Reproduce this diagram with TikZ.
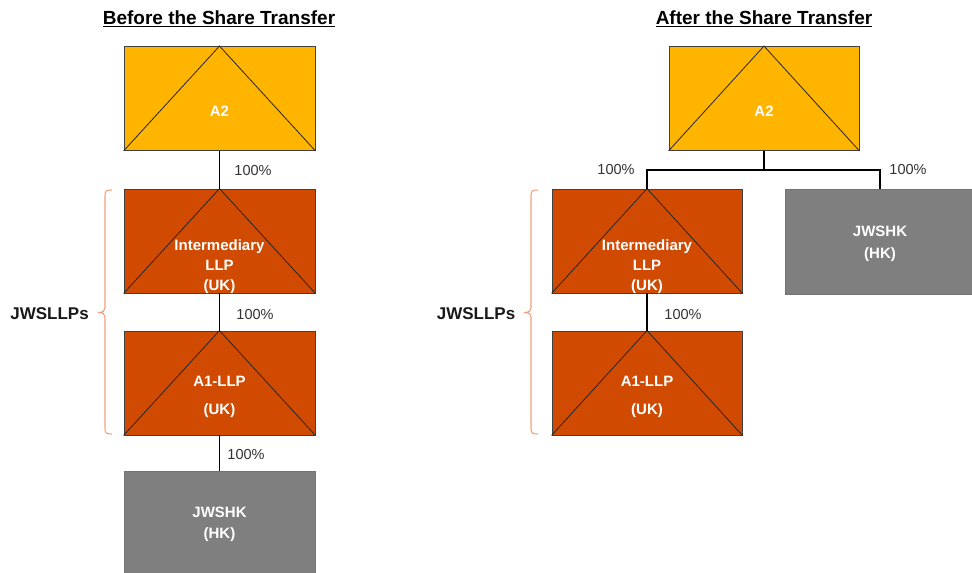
\documentclass[tikz,border=0pt]{standalone}
\usepackage{fontspec}
\setmainfont{Liberation Sans}
\definecolor{cyel}{HTML}{FFB400}
\definecolor{corg}{HTML}{D04A02}
\definecolor{cgry}{HTML}{7F7F7F}
\definecolor{cbr}{HTML}{F2A07C}
\definecolor{ctxt}{HTML}{333333}
\tikzset{
  entbox/.style={draw=black!75, line width=0.9pt, minimum width=191pt, minimum height=104pt, inner sep=0pt},
  yelbox/.style={entbox, fill=cyel},
  orgbox/.style={entbox, fill=corg},
  grybox/.style={entbox, fill=cgry, draw=black!55},
  tri/.style={draw=black!85, line width=0.8pt},
  lbl/.style={text=white, font=\bfseries\fontsize{15}{20}\selectfont, align=center, inner sep=0pt},
  pct/.style={text=ctxt, font=\fontsize{14.5}{16}\selectfont, inner sep=0pt},
  conn/.style={draw=black, line width=1.4pt},
  ttl/.style={font=\bfseries\fontsize{19}{22}\selectfont, inner sep=0pt},
  brc/.style={draw=cbr, line width=1.1pt},
  grp/.style={font=\bfseries\fontsize{17}{18}\selectfont, text=black!90, inner sep=0pt}
}
\begin{document}
\begin{tikzpicture}[x=1pt,y=-1pt]
\useasboundingbox (0,0) rectangle (972,573);
\clip (0,0) rectangle (972,573);
% titles
\node[ttl] (t1) at (219,19) {\underline{Before the Share Transfer}};
\node[ttl] (t2) at (764,19) {\underline{After the Share Transfer}};
% left boxes
\node[yelbox] (a2l) at (219.5,98.5) {};
\node[orgbox] (inl) at (219.5,241) {};
\node[orgbox] (a1l) at (219.5,383) {};
\node[grybox, minimum height=115pt] (hkl) at (219.5,528.5) {};
% right boxes
\node[yelbox, minimum width=190pt] (a2r) at (764,98.5) {};
\node[orgbox, minimum width=190pt] (inr) at (647,241) {};
\node[orgbox, minimum width=190pt] (a1r) at (647,383) {};
\node[grybox, minimum width=190pt, minimum height=105pt] (hkr) at (880,241.5) {};
% triangles
\foreach \n in {a2l,inl,a1l,a2r,inr,a1r}{
  \draw[tri] (\n.south west) -- (\n.north) -- (\n.south east);
}
% labels
\node[lbl] (ta2l) at (219.5,111) {A2};
\node[lbl] (tinl) at (219.5,266.5) {Intermediary\\LLP\\(UK)};
\node[lbl, font=\bfseries\fontsize{15}{28}\selectfont] (ta1l) at (219.5,396.5) {A1-LLP\\(UK)};
\node[lbl, font=\bfseries\fontsize{15}{21}\selectfont] (thkl) at (219.5,524) {JWSHK\\(HK)};
\node[lbl] (ta2r) at (764,111) {A2};
\node[lbl] (tinr) at (647,266.5) {Intermediary\\LLP\\(UK)};
\node[lbl, font=\bfseries\fontsize{15}{28}\selectfont] (ta1r) at (647,396.5) {A1-LLP\\(UK)};
\node[lbl, font=\bfseries\fontsize{15}{22}\selectfont] (thkr) at (880,243.5) {JWSHK\\(HK)};
% connectors left
\draw[conn] (a2l.south) -- (inl.north);
\draw[conn] (inl.south) -- (a1l.north);
\draw[conn] (a1l.south) -- (hkl.north);
% connectors right
\coordinate (jr) at ([yshift=-19pt]a2r.south);
\draw[conn] (a2r.south) -- (jr);
\draw[conn] (inr.north) |- (jr) -| (hkr.north);
\draw[conn] (inr.south) -- (a1r.north);
% percentages
\node[pct] (p1) at (253,171) {100\%};
\node[pct] (p2) at (255,315) {100\%};
\node[pct] (p3) at (246,455) {100\%};
\node[pct] (p4) at (616,170) {100\%};
\node[pct] (p5) at (908,170) {100\%};
\node[pct] (p6) at (683,315) {100\%};
% braces
\foreach \bx/\nm in {105/bl,531/br}{
  \coordinate (\nm t) at (\bx+7,190);
  \coordinate (\nm b) at (\bx+7,434);
  \coordinate (\nm m) at (\bx-7,312.5);
  \draw[brc] (\nm t) .. controls (\bx+1,190) and (\bx,191) .. (\bx,196)
     -- (\bx,308) .. controls (\bx,311) and (\bx-2,312.5) .. (\nm m)
     .. controls (\bx-2,312.5) and (\bx,314) .. (\bx,317)
     -- (\bx,428) .. controls (\bx,433) and (\bx+1,434) .. (\nm b);
}
\node[grp] (gl) at (49.5,313.5) {JWSLLPs};
\node[grp] (gr) at (476,313.5) {JWSLLPs};
\end{tikzpicture}
\end{document}
